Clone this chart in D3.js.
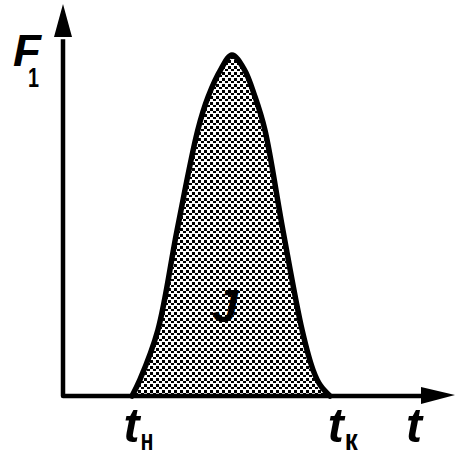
<!DOCTYPE html>
<html><head><meta charset="utf-8">
<script src="https://cdn.jsdelivr.net/npm/d3@7"></script>
<style>body{margin:0;background:#fff}svg{display:block}</style>
</head><body>
<script>
// Data (abstract units: t and F both 0..100)
const tValues = [17.6, 19.6, 24.2, 29.1, 34.4, 37.0, 40.3, 43.1, 46.2, 49.0, 51.5, 56.1, 61.0, 63.8, 65.6, 68.1];
const FValues = [0, 4.1, 16.8, 42.3, 67.9, 76.3, 83.4, 87.0, 83.4, 76.3, 67.9, 42.3, 16.8, 6.6, 2.8, 0];
const axisLabels = {y: "F", ySub: "1", x: "t"};
const tickLabels = [{t: 15.7, main: "t", sub: "н"}, {t: 67.8, main: "t", sub: "к"}];
const areaLabel = "J";

const W = 460, H = 472;
const svg = d3.select("body").append("svg").attr("width", W).attr("height", H);
const x = d3.scaleLinear().domain([0, 100]).range([63, 455]);
const y = d3.scaleLinear().domain([0, 100]).range([396, 4]);

const defs = svg.append("defs");
const pat = defs.append("pattern").attr("id", "stip").attr("patternUnits", "userSpaceOnUse")
  .attr("width", 6).attr("height", 6);
pat.append("rect").attr("x", 0).attr("y", 0).attr("width", 3).attr("height", 3).attr("fill", "#000");
pat.append("rect").attr("x", 3).attr("y", 3).attr("width", 3).attr("height", 2).attr("fill", "#000");

const pts = tValues.map((t, i) => [t, FValues[i]]);
const area = d3.area().x(d => x(d[0])).y0(y(0)).y1(d => y(d[1])).curve(d3.curveCatmullRom.alpha(0.5));
const line = d3.line().x(d => x(d[0])).y(d => y(d[1])).curve(d3.curveCatmullRom.alpha(0.5));

svg.append("path").datum(pts).attr("d", area).attr("fill", "url(#stip)");
svg.append("path").datum(pts).attr("d", line).attr("fill", "none").attr("stroke", "#000")
  .attr("stroke-width", 5.5).attr("stroke-linejoin", "round").attr("stroke-linecap", "round");

// Axes
svg.append("path")
  .attr("d", `M${x(0)},${y(91)} L${x(0)},${y(0)} L${x(92)},${y(0)}`)
  .attr("fill", "none").attr("stroke", "#000").attr("stroke-width", 4.5)
  .attr("stroke-linejoin", "round");
// arrowheads
svg.append("path")
  .attr("d", `M${x(0)},${y(100)} L${x(0) - 9},${y(100) + 33} L${x(0) + 9},${y(100) + 33} Z`)
  .attr("fill", "#000");
svg.append("path")
  .attr("d", `M${x(100)},${y(0) - 1} L${x(100) - 34},${y(0) - 9} L${x(100) - 34},${y(0) + 8} Z`)
  .attr("fill", "#000");

const font = "'Liberation Sans', Arial, sans-serif";
function label(txt, px, py, size, len, italic) {
  svg.append("text").attr("x", px).attr("y", py).text(txt)
    .attr("font-family", font).attr("font-weight", "bold")
    .attr("font-style", italic ? "italic" : "normal")
    .attr("font-size", size).attr("textLength", len).attr("lengthAdjust", "spacingAndGlyphs")
    .attr("fill", "#000");
}
label(axisLabels.y, 13, 66, 44, 28, true);
label(axisLabels.ySub, 28, 87, 27, 11, false);
label(axisLabels.x, 406, 442, 48, 16, true);
tickLabels.forEach(d => {
  const px = x(d.t);
  label(d.main, px - 1, 442, 48, 16, true);
  label(d.sub, px + 16, 450, 30, 13, false);
});
label(areaLabel, 212, 322, 46, 26, true);
</script>
</body></html>
